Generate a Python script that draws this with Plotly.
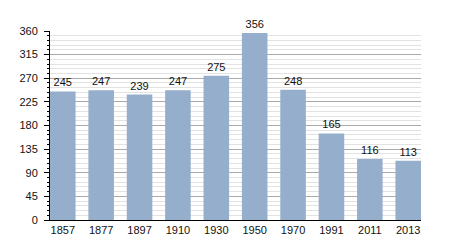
import plotly.graph_objects as go

years = ["1857", "1877", "1897", "1910", "1930", "1950", "1970", "1991", "2011", "2013"]
population = [245, 247, 239, 247, 275, 356, 248, 165, 116, 113]
y_ticks = [0, 45, 90, 135, 180, 225, 270, 315, 360]

gap = 0.334
fig = go.Figure()
fig.add_trace(go.Bar(
    x=years, y=population,
    text=[str(v) for v in population],
    textposition="outside",
    cliponaxis=False,
    textfont=dict(family="Liberation Sans, Arial", size=11, color="#111"),
    marker=dict(color="#94aecb", line=dict(width=0)),
))
fig.update_layout(
    width=450, height=250,
    margin=dict(l=50, r=29, t=31, b=30),
    paper_bgcolor="white", plot_bgcolor="white",
    bargap=gap,
    showlegend=False,
    font=dict(family="Liberation Sans, Arial", size=11, color="#111"),
)
half = (1 - gap) / 2
fig.update_xaxes(
    type="category",
    range=[-half, len(years) - 1 + half],
    showline=True, linecolor="black", linewidth=1,
    ticks="", showgrid=False,
    tickfont=dict(size=11),
)
fig.update_yaxes(
    range=[0, 360],
    tickvals=y_ticks,
    showline=True, linecolor="black", linewidth=1,
    ticks="outside", ticklen=5, tickcolor="black",
    ticklabelstandoff=4,
    showgrid=True, gridcolor="#aaaaaa", gridwidth=1,
    zeroline=False,
    minor=dict(dtick=9, showgrid=True, gridcolor="#e2e2e2", ticks="outside", ticklen=2, tickcolor="black"),
    tickfont=dict(size=11),
)
fig.write_html("out.html")
